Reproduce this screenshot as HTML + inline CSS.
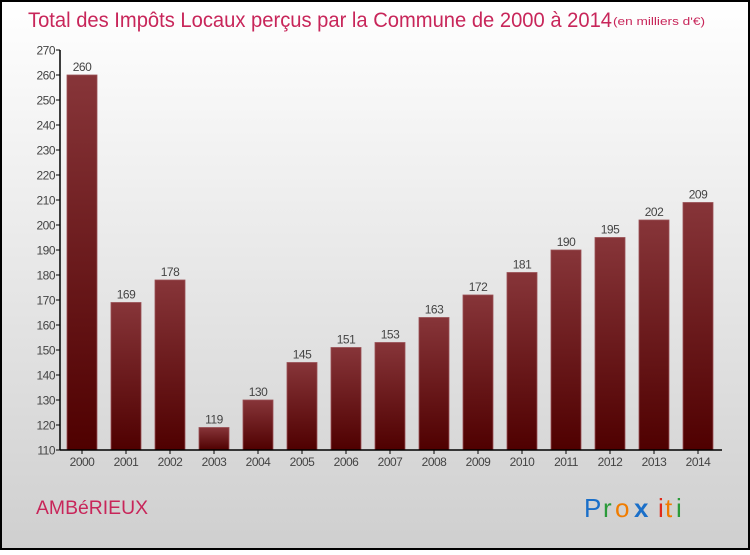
<!DOCTYPE html>
<html><head><meta charset="utf-8"><style>
body{margin:0;width:750px;height:550px;overflow:hidden}
#c{width:750px;height:550px}
text{font-family:"Liberation Sans",sans-serif}
</style></head><body>
<svg id="c" width="750" height="550" xmlns="http://www.w3.org/2000/svg">
<defs>
<linearGradient id="bg" x1="0" y1="0" x2="0" y2="1"><stop offset="0" stop-color="#ffffff"/><stop offset="1" stop-color="#cfcfcf"/></linearGradient>
<linearGradient id="bar" x1="0" y1="0" x2="0" y2="1"><stop offset="0" stop-color="#873539"/><stop offset="1" stop-color="#4f0000"/></linearGradient>
</defs>
<rect x="1" y="1" width="748" height="548" fill="url(#bg)" stroke="#000" stroke-width="2"/>
<text x="28" y="27" font-size="21" fill="#c8265a" textLength="584" lengthAdjust="spacingAndGlyphs">Total des Impôts Locaux perçus par la Commune de 2000 à 2014</text>
<text x="613" y="25" font-size="11" fill="#c8265a" textLength="92" lengthAdjust="spacingAndGlyphs">(en milliers d'€)</text>
<g id="yaxis"></g>
<g id="bars"></g>
<g id="xaxis"></g>
<text x="36" y="514" font-size="19" fill="#c8265a" textLength="112" lengthAdjust="spacingAndGlyphs">AMBéRIEUX</text>
<g font-size="26">
<text x="584" y="517" fill="#1a6fc9">P</text><text x="603" y="517" fill="#2a9a3a">r</text><text x="615" y="517" fill="#f07c00">o</text><text x="634" y="517" fill="#1a6fc9" font-weight="bold">x</text><text x="658" y="517" fill="#e02a1a">i</text><text x="665" y="517" fill="#f07c00">t</text><text x="676" y="517" fill="#2a9a3a">i</text>
</g>
</svg>
<script>
const years=["2000","2001","2002","2003","2004","2005","2006","2007","2008","2009","2010","2011","2012","2013","2014"];
const values=[260,169,178,119,130,145,151,153,163,172,181,190,195,202,209];
const yTicks=[110,120,130,140,150,160,170,180,190,200,210,220,230,240,250,260,270];
const NS="http://www.w3.org/2000/svg";
const y=v=>450-(v-110)*2.5;
const x=i=>82+i*44;
function mk(t,a,p,txt){const e=document.createElementNS(NS,t);for(const k in a)e.setAttribute(k,a[k]);if(txt!==undefined)e.textContent=txt;p.appendChild(e);return e;}
const ya=document.getElementById('yaxis'),ba=document.getElementById('bars'),xa=document.getElementById('xaxis');
mk('line',{x1:60,y1:50,x2:60,y2:450,stroke:'#000','stroke-width':1.5},ya);
yTicks.forEach(v=>{
 const l=mk('line',{x1:56,y1:y(v),x2:60,y2:y(v),stroke:'#000','stroke-width':1},ya);
 
 
 const t=mk('text',{x:55,y:y(v)+4.5,'font-size':12,fill:'#444','text-anchor':'end','letter-spacing':'-0.5'},ya,v);
 
 
});
mk('line',{x1:60,y1:450,x2:722,y2:450,stroke:'#000','stroke-width':1.5},xa);
values.forEach((v,i)=>{
 const r=mk('rect',{x:x(i)-15,y:y(v),width:30,height:450-y(v),fill:'url(#bar)',stroke:'#9a5055','stroke-width':0.8},ba);
 
 
 const t=mk('text',{x:x(i),y:y(v)-4,'font-size':12,fill:'#444','text-anchor':'middle','letter-spacing':'-0.5'},ba,v);
 
 
 const tk=mk('line',{x1:x(i),y1:450,x2:x(i),y2:454,stroke:'#000'},xa);
 
 
 const xl=mk('text',{x:x(i),y:466,'font-size':12,fill:'#444','text-anchor':'middle','letter-spacing':'-0.5'},xa,years[i]);
 
 
});
</script>
</body></html>
